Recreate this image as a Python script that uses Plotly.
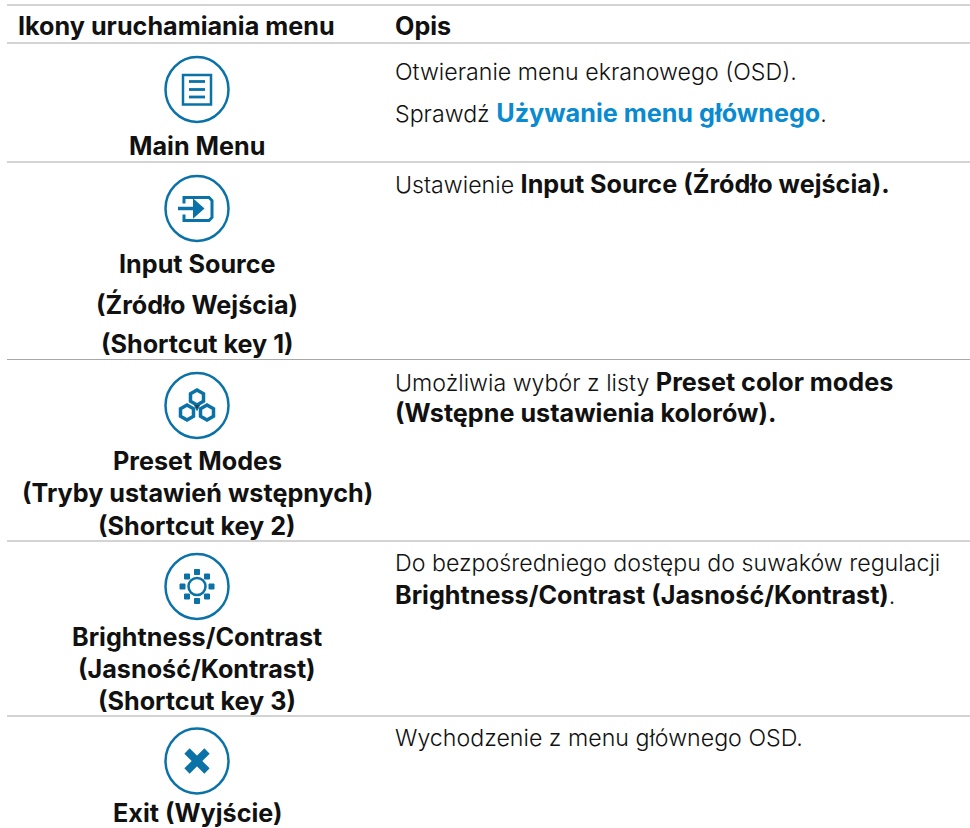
import math
import plotly.graph_objects as go

W, H = 970, 828
FONT = "Inter"
BLUE = "#0a72a6"
LINK = "#0a8ad0"
INK = "#111111"
GREY = "#a8a8a8"
BOLD_SIZE = 25.2
REG_SIZE = 23.2


def B(t, color=None):
    col = f"color:{color};" if color else ""
    return f"<b><span style='font-size:{BOLD_SIZE}px;{col}'>{t}</span></b>"


header_left = "Ikony uruchamiania menu"
header_right = "Opis"
left_labels = [
    ["Main Menu"],
    ["Input Source", "(Źródło Wejścia)", "(Shortcut key 1)"],
    ["Preset Modes", "(Tryby ustawień wstępnych)", "(Shortcut key 2)"],
    ["Brightness/Contrast", "(Jasność/Kontrast)", "(Shortcut key 3)"],
    ["Exit (Wyjście)"],
]
left_label_y = [[146], [264, 304, 344], [461, 493, 526], [637, 669, 701], [813]]
right_lines = [
    ["Otwieranie menu ekranowego (OSD).",
     "Sprawdź " + B("Używanie menu głównego", LINK) + "."],
    ["Ustawienie " + B("Input Source (Źródło wejścia).")],
    ["Umożliwia wybór z listy " + B("Preset color modes"),
     B("(Wstępne ustawienia kolorów).")],
    ["Do bezpośredniego dostępu do suwaków regulacji",
     B("Brightness/Contrast (Jasność/Kontrast)") + "."],
    ["Wychodzenie z menu głównego OSD."],
]
right_line_y = [[72, 113], [183], [382, 413], [563, 595], [738]]
rule_y = [5, 43, 162, 359.5, 541, 716]
icon_cy = [89.5, 208.5, 405.5, 586.5, 761]
ICON_X = 197

shapes = []
for y in rule_y:
    shapes.append(dict(type="line", x0=7, x1=W, y0=y, y1=y, line=dict(color=GREY, width=1)))


def circle(cx, cy, r, fill="rgba(0,0,0,0)", w=2, ry=None):
    ry = ry or r
    return dict(type="circle", x0=cx-r, x1=cx+r, y0=cy-ry, y1=cy+ry,
                line=dict(color=BLUE, width=w), fillcolor=fill)


def line(x0, y0, x1, y1, w=2):
    return dict(type="line", x0=x0, y0=y0, x1=x1, y1=y1, line=dict(color=BLUE, width=w))


def rect(x0, y0, x1, y1, w=2, fill="rgba(0,0,0,0)"):
    return dict(type="rect", x0=x0, y0=y0, x1=x1, y1=y1, line=dict(color=BLUE, width=w), fillcolor=fill)


def path(d, w=2, fill="rgba(0,0,0,0)"):
    return dict(type="path", path=d, line=dict(color=BLUE, width=w), fillcolor=fill)


def hexagon(cx, cy, r, w):
    pts = [(cx + r*math.sin(math.radians(a)), cy + r*math.cos(math.radians(a))) for a in range(0, 360, 60)]
    return path("M " + " L ".join(f"{x:.1f} {y:.1f}" for x, y in pts) + " Z", w)


for cy in icon_cy:
    shapes.append(circle(ICON_X, cy, 31.5, w=2.5, ry=32.5))

# menu
c = icon_cy[0]
shapes.append(rect(ICON_X-14, c-14.5, ICON_X+14, c+15, 2.5))
for dy in (-8, 0, 7.5):
    shapes.append(line(ICON_X-8, c+dy, ICON_X+8, c+dy, 2.8))
# input
c = icon_cy[1]
shapes.append(path(f"M {ICON_X-13} {c-5} L {ICON_X-13} {c-11} L {ICON_X+12} {c-11} L {ICON_X+15} {c-8} L {ICON_X+15} {c+9} L {ICON_X+12} {c+12} L {ICON_X-13} {c+12} L {ICON_X-13} {c+6}", 3))
shapes.append(line(ICON_X-19, c, ICON_X, c, 3.5))
shapes.append(path(f"M {ICON_X-3} {c-8} L {ICON_X+6} {c} L {ICON_X-3} {c+8} Z", 2, BLUE))
# preset
c = icon_cy[2]
for dx, dy in ((0, -8), (-10, 7), (10, 7)):
    shapes.append(hexagon(ICON_X+dx, c+dy, 7.5, 3.5))
shapes.append(path(f"M {ICON_X-3} {c-1} L {ICON_X+3} {c-1} L {ICON_X} {c+5} Z", 1, "#333f48"))
# brightness
c = icon_cy[3]
for dx, dy in ((0, -14.5), (0, 14.5), (-14.5, 0), (14.5, 0), (-10, -10), (10, -10), (-10, 10), (10, 10)):
    shapes.append(rect(ICON_X+dx-2.5, c+dy-2.5, ICON_X+dx+2.5, c+dy+2.5, 1, BLUE))
shapes.append(circle(ICON_X, c, 8.5, "#ffffff", 2.5))
shapes.append(path(f"M {ICON_X+1} {c-8} A 8 8 0 0 0 {ICON_X+1} {c+8} Z", 1, BLUE))
# exit
c = icon_cy[4]
shapes.append(line(ICON_X-10, c-10, ICON_X+10, c+10, 7.5))
shapes.append(line(ICON_X-10, c+10, ICON_X+10, c-10, 7.5))

ann = []


def text(x, y, t, anchor):
    ann.append(dict(x=x, y=y, text=t, xref="x", yref="y",
                    xanchor=anchor, yanchor="middle", showarrow=False,
                    font=dict(family=FONT, size=REG_SIZE, color=INK, weight=300)))


text(16, 26, B(header_left), "left")
text(393, 26, B(header_right), "left")
for labels, ys in zip(left_labels, left_label_y):
    for t, y in zip(labels, ys):
        text(ICON_X, y, B(t), "center")
for lines, ys in zip(right_lines, right_line_y):
    for t, y in zip(lines, ys):
        text(393, y, t, "left")

fig = go.Figure()
fig.update_layout(
    width=W, height=H, margin=dict(l=0, r=0, t=0, b=0),
    paper_bgcolor="white", plot_bgcolor="white", showlegend=False,
    xaxis=dict(range=[0, W], visible=False, fixedrange=True),
    yaxis=dict(range=[H, 0], visible=False, fixedrange=True),
    shapes=shapes, annotations=ann,
)
fig.write_html("out.html", config=dict(displayModeBar=False),
               post_script="document.body.style.margin='0';document.body.style.overflow='hidden';")
